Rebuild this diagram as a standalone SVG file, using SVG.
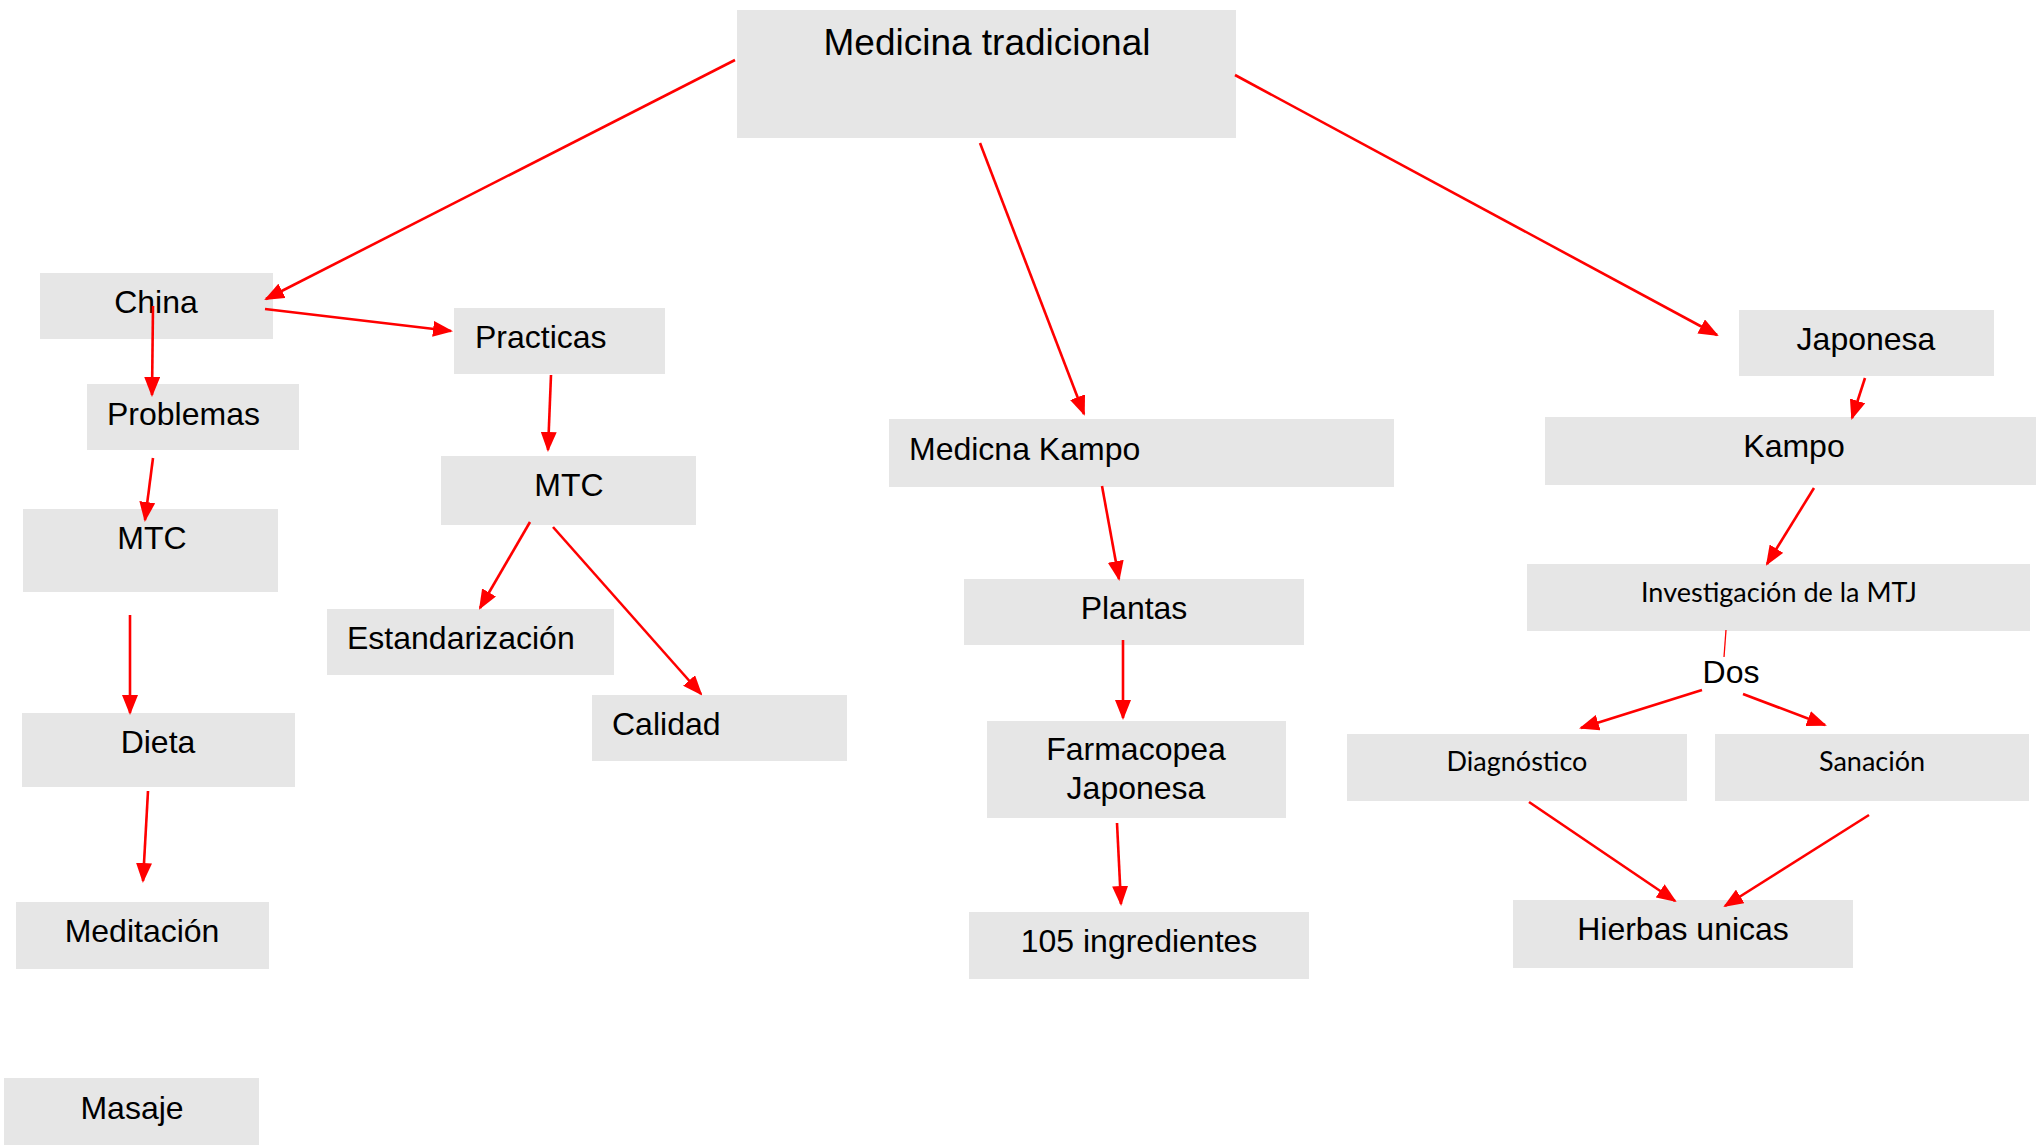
<svg xmlns="http://www.w3.org/2000/svg" width="2036" height="1145" viewBox="0 0 2036 1145">
<style>
.box{fill:#e6e6e6}
.t{font-family:"Liberation Sans",Arial,sans-serif;font-size:32px;fill:#000}
.c{text-anchor:middle}
.k{font-family:Lato,"Open Sans",sans-serif;font-size:27px;fill:#000;text-anchor:middle}
.e{stroke:#ff0000;stroke-width:2.6;fill:none;marker-end:url(#ah)}
</style>
<defs>
<marker id="ah" markerUnits="userSpaceOnUse" markerWidth="20" markerHeight="16" refX="18" refY="8" orient="auto">
<path d="M0,0 L20,8 L0,16 Z" fill="#ff0000"/>
</marker>
</defs>
<rect width="2036" height="1145" fill="#ffffff"/>
<g id="n-medicina"><rect class="box" x="737" y="10" width="499" height="128"/><text class="t c" x="987" y="55" style="font-size:37px">Medicina tradicional</text></g>
<g id="n-china"><rect class="box" x="40" y="273" width="233" height="66"/><text class="t c" x="156" y="313">China</text></g>
<g id="n-practicas"><rect class="box" x="454" y="308" width="211" height="66"/><text class="t" x="475" y="348">Practicas</text></g>
<g id="n-problemas"><rect class="box" x="87" y="384" width="212" height="66"/><text class="t" x="107" y="425">Problemas</text></g>
<g id="n-mtc1"><rect class="box" x="23" y="509" width="255" height="83"/><text class="t c" x="152" y="549">MTC</text></g>
<g id="n-dieta"><rect class="box" x="22" y="713" width="273" height="74"/><text class="t c" x="158" y="753">Dieta</text></g>
<g id="n-meditacion"><rect class="box" x="16" y="902" width="253" height="67"/><text class="t c" x="142" y="942">Meditación</text></g>
<g id="n-masaje"><rect class="box" x="4" y="1078" width="255" height="67"/><text class="t c" x="132" y="1119">Masaje</text></g>
<g id="n-mtc2"><rect class="box" x="441" y="456" width="255" height="69"/><text class="t c" x="569" y="496">MTC</text></g>
<g id="n-estandarizacion"><rect class="box" x="327" y="609" width="287" height="66"/><text class="t" x="347" y="649">Estandarización</text></g>
<g id="n-calidad"><rect class="box" x="592" y="695" width="255" height="66"/><text class="t" x="612" y="735">Calidad</text></g>
<g id="n-kampo1"><rect class="box" x="889" y="419" width="505" height="68"/><text class="t" x="909" y="460">Medicna Kampo</text></g>
<g id="n-plantas"><rect class="box" x="964" y="579" width="340" height="66"/><text class="t c" x="1134" y="619">Plantas</text></g>
<g id="n-farmacopea"><rect class="box" x="987" y="721" width="299" height="97"/><text class="t c" x="1136" y="760">Farmacopea</text><text class="t c" x="1136" y="799">Japonesa</text></g>
<g id="n-105"><rect class="box" x="969" y="912" width="340" height="67"/><text class="t c" x="1139" y="952">105 ingredientes</text></g>
<g id="n-japonesa"><rect class="box" x="1739" y="310" width="255" height="66"/><text class="t c" x="1866" y="350">Japonesa</text></g>
<g id="n-kampo2"><rect class="box" x="1545" y="417" width="491" height="68"/><text class="t c" x="1794" y="457">Kampo</text></g>
<g id="n-investigacion"><rect class="box" x="1527" y="564" width="503" height="67"/><text class="k" x="1779" y="602">Investigación de la MTJ</text></g>
<g id="n-dos"><text class="t c" x="1731" y="683">Dos</text></g>
<g id="n-diagnostico"><rect class="box" x="1347" y="734" width="340" height="67"/><text class="k" x="1517" y="771">Diagnóstico</text></g>
<g id="n-sanacion"><rect class="box" x="1715" y="734" width="314" height="67"/><text class="k" x="1872" y="771">Sanación</text></g>
<g id="n-hierbas"><rect class="box" x="1513" y="900" width="340" height="68"/><text class="t c" x="1683" y="940">Hierbas unicas</text></g>
<g id="connectors">
<line class="e" x1="735" y1="60" x2="266" y2="299"/>
<line class="e" x1="265" y1="309" x2="451" y2="331"/>
<line class="e" x1="153" y1="306" x2="152" y2="395"/>
<line class="e" x1="153" y1="458" x2="145" y2="520"/>
<line class="e" x1="130" y1="615" x2="130" y2="713"/>
<line class="e" x1="148" y1="791" x2="143" y2="881"/>
<line class="e" x1="551" y1="375" x2="548" y2="450"/>
<line class="e" x1="530" y1="522" x2="480" y2="608"/>
<line class="e" x1="553" y1="527" x2="701" y2="694"/>
<line class="e" x1="980" y1="143" x2="1084" y2="414"/>
<line class="e" x1="1235" y1="75" x2="1717" y2="335"/>
<line class="e" x1="1102" y1="486" x2="1119" y2="579"/>
<line class="e" x1="1123" y1="640" x2="1123" y2="718"/>
<line class="e" x1="1117" y1="823" x2="1121" y2="904"/>
<line class="e" x1="1865" y1="378" x2="1852" y2="418"/>
<line class="e" x1="1814" y1="488" x2="1767" y2="564"/>
<line x1="1726" y1="630" x2="1724" y2="657" stroke="#ff0000" stroke-width="1.3"/>
<line class="e" x1="1702" y1="690" x2="1581" y2="728"/>
<line class="e" x1="1743" y1="694" x2="1825" y2="725"/>
<line class="e" x1="1529" y1="802" x2="1675" y2="901"/>
<line class="e" x1="1869" y1="815" x2="1725" y2="906"/>
</g>
</svg>
